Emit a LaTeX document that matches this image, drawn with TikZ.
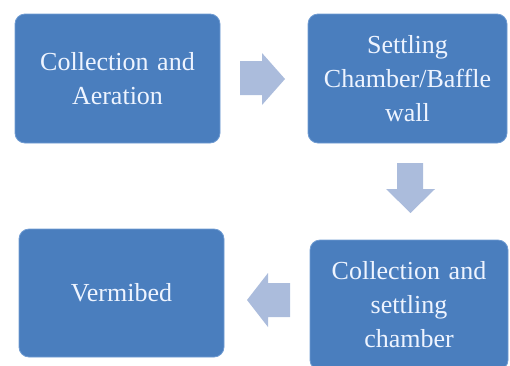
\documentclass[tikz,border=0pt]{standalone}
\usepackage{fontspec}
\setmainfont{Liberation Serif}
\definecolor{boxblue}{HTML}{4A7EBE}
\definecolor{boxedge}{HTML}{6F9BD2}
\definecolor{arrowblue}{HTML}{ABBCDC}
\definecolor{txt}{HTML}{EEF4FF}
\begin{document}
\begin{tikzpicture}[x=1pt,y=-1pt,
  stagebox/.style={draw=boxedge, line width=0.8pt, fill=boxblue, rounded corners=10pt,
    text=txt, align=center, inner sep=0pt,
    font=\fontsize{26}{34}\selectfont},
  blockarrow/.style={fill=arrowblue, draw=none}]
\useasboundingbox (0,0) rectangle (510,365);
\begin{scope}
\clip (0,0) rectangle (510,365);
\node[stagebox, minimum width=205pt, minimum height=129pt, text width=195pt] (a) at (117.5,78.5) {Collection and\\Aeration};
\node[stagebox, minimum width=199pt, minimum height=129pt, text width=195pt] (b) at (407.5,78.5) {Settling\\Chamber/Baffle\\wall};
\node[stagebox, minimum width=198pt, minimum height=130pt, text width=195pt] (c) at (409,305) {Collection and\\settling\\chamber};
\node[stagebox, minimum width=205pt, minimum height=128pt, text width=195pt] (d) at (121.5,293) {Vermibed};
\end{scope}
% block arrows between stages
\fill[blockarrow] (240,61) -- (262,61) -- (262,53) -- (285,79) -- (262,105) -- (262,95) -- (240,95) -- cycle;
\fill[blockarrow] (397,163) -- (423,163) -- (423,189) -- (435,189) -- (410.5,213) -- (386,189) -- (397,189) -- cycle;
\fill[blockarrow] (290,283) -- (290,317) -- (268,317) -- (268,327) -- (247,300) -- (268,273) -- (268,283) -- cycle;
\end{tikzpicture}
\end{document}
